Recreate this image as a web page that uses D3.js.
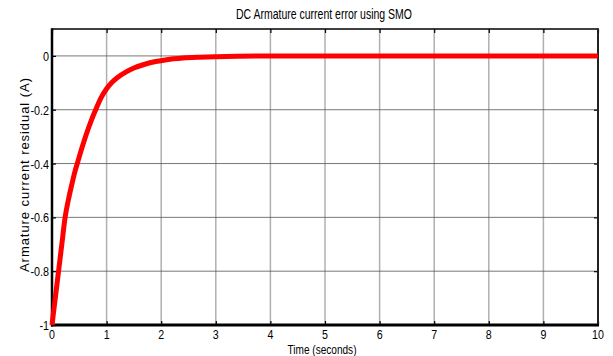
<!DOCTYPE html>
<html><head><meta charset="utf-8">
<script src="https://cdn.jsdelivr.net/npm/d3@7"></script>
<style>
body{margin:0;background:#fff;}
text{font-family:"Liberation Sans",Arial,sans-serif;fill:#000;}
</style></head>
<body><svg id="c" width="613" height="356"></svg>
<script>
const title = "DC Armature current error using SMO";
const xLabel = "Time (seconds)";
const yLabel = "Armature current residual (A)";
const timeValues = [0, 0.06, 0.12, 0.18, 0.24, 0.3, 0.36, 0.42, 0.47, 0.55, 0.63, 0.71, 0.79, 0.9, 1.0, 1.1, 1.2, 1.35, 1.5, 1.7, 1.9, 2.1, 2.4, 2.7, 3.0, 3.4, 4, 5, 6, 7, 8, 9, 10];
const residualValues = [-1, -0.9, -0.8, -0.7, -0.6, -0.535, -0.48, -0.43, -0.395, -0.34, -0.29, -0.245, -0.205, -0.155, -0.122, -0.098, -0.08, -0.06, -0.045, -0.031, -0.021, -0.014, -0.008, -0.005, -0.003, -0.001, 0, 0, 0, 0, 0, 0, 0];
const xTicks = [0,1,2,3,4,5,6,7,8,9,10];
const yTicks = [-1,-0.8,-0.6,-0.4,-0.2,0];

const svg = d3.select("#c");
const L=52, R=598, T=29, B=325;
const x = d3.scaleLinear().domain([0,10]).range([L,R]);
const y = d3.scaleLinear().domain([-1,0.1]).range([B,T]);

function squeeze(sel, f){ sel.each(function(){ const w=this.getComputedTextLength(); d3.select(this).attr("textLength",w*f).attr("lengthAdjust","spacingAndGlyphs"); }); }

// grid
svg.append("g").selectAll("line").data(xTicks.slice(1,-1)).join("line")
  .attr("x1",d=>x(d)).attr("x2",d=>x(d)).attr("y1",T).attr("y2",B)
  .attr("stroke","#b0b0b0").attr("stroke-width",1.5);
svg.append("g").selectAll("line").data(yTicks.slice(1)).join("line")
  .attr("x1",L).attr("x2",R).attr("y1",d=>y(d)).attr("y2",d=>y(d))
  .attr("stroke","#555").attr("stroke-width",0.8);

// inner ticks
const xb = svg.append("g").attr("transform",`translate(0,${B})`).call(d3.axisBottom(x).tickValues(xTicks).tickSize(-4).tickFormat(""));
const xt = svg.append("g").attr("transform",`translate(0,${T})`).call(d3.axisTop(x).tickValues(xTicks).tickSize(-4).tickFormat(""));
const yl = svg.append("g").attr("transform",`translate(${L},0)`).call(d3.axisLeft(y).tickValues(yTicks).tickSize(-4).tickFormat(""));
const yr = svg.append("g").attr("transform",`translate(${R},0)`).call(d3.axisRight(y).tickValues(yTicks).tickSize(-4).tickFormat(""));
[xb,xt,yl,yr].forEach(g=>{g.select(".domain").remove();
  g.selectAll(".tick line").attr("stroke","#000").attr("stroke-width",1.2);});

// tick labels
const xl = svg.append("g").selectAll("text").data(xTicks).join("text")
  .attr("x",d=>x(d)).attr("y",339).attr("text-anchor","middle").attr("font-size",13).text(d=>d);
squeeze(xl,0.82);
const ylab = svg.append("g").selectAll("text").data(yTicks).join("text")
  .attr("x",49).attr("y",d=>y(d)+5).attr("text-anchor","end").attr("font-size",13.5).text(d=>String(d));
squeeze(ylab,0.8);

// frame
svg.append("line").attr("x1",L).attr("x2",R).attr("y1",T).attr("y2",T).attr("stroke","#000").attr("stroke-width",1.5);
svg.append("line").attr("x1",R).attr("x2",R).attr("y1",T-0.75).attr("y2",B).attr("stroke","#222").attr("stroke-width",2);
svg.append("line").attr("x1",L).attr("x2",L).attr("y1",T-0.75).attr("y2",B+1.5).attr("stroke","#000").attr("stroke-width",2.5);
svg.append("line").attr("x1",L-1).attr("x2",R+1).attr("y1",B).attr("y2",B).attr("stroke","#000").attr("stroke-width",3);

// curve
svg.append("path").datum(timeValues.map((t,i)=>[t,residualValues[i]]))
  .attr("fill","none").attr("stroke","#ff0000").attr("stroke-width",5)
  .attr("stroke-linejoin","round")
  .attr("d",d3.line().x(d=>x(d[0])).y(d=>y(d[1])).curve(d3.curveMonotoneX));

// labels
svg.append("text").attr("x",324).attr("y",19).attr("text-anchor","middle").attr("font-size",14.5)
  .attr("textLength",176).attr("lengthAdjust","spacingAndGlyphs").text(title);
svg.append("text").attr("x",322).attr("y",354).attr("text-anchor","middle").attr("font-size",13.5)
  .attr("textLength",69).attr("lengthAdjust","spacingAndGlyphs").text(xLabel);
svg.append("text").attr("transform",`translate(29,175) rotate(-90)`).attr("text-anchor","middle")
  .attr("font-size",13).attr("textLength",194).attr("lengthAdjust","spacing").text(yLabel);
</script></body></html>
